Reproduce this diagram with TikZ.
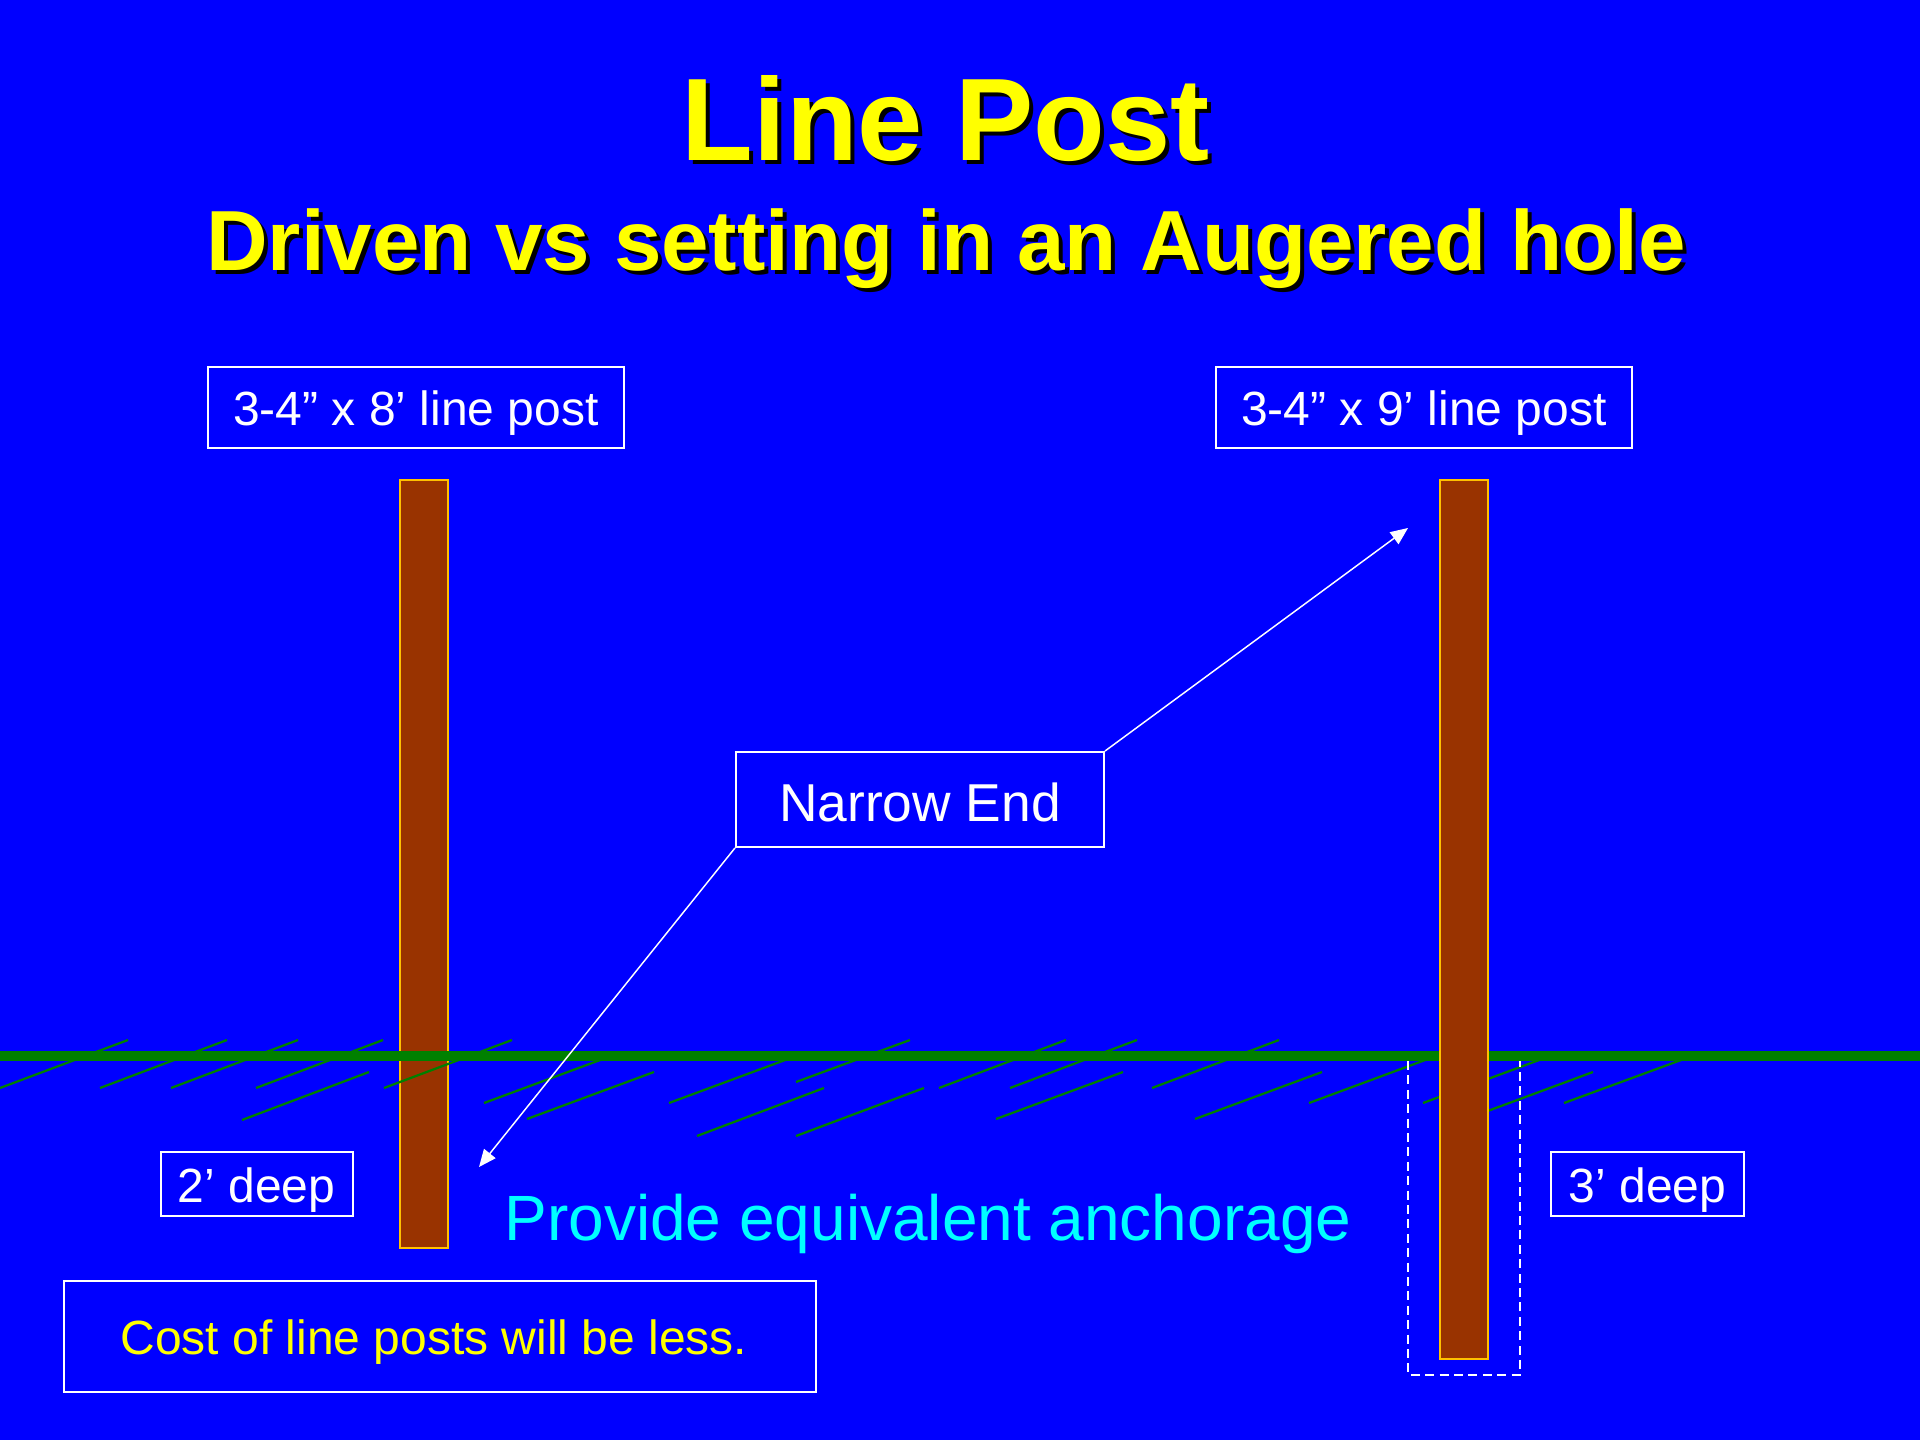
\documentclass[tikz,border=0pt]{standalone}
\usepackage{fontspec}
\setmainfont{Liberation Sans}
\usetikzlibrary{arrows.meta}
\definecolor{bg}{HTML}{0000FF}
\definecolor{postfill}{HTML}{993300}
\definecolor{postedge}{HTML}{FFC000}
\definecolor{grass}{HTML}{008000}
\definecolor{ttl}{HTML}{FFFF00}
\definecolor{aqua}{HTML}{00FFFF}
\tikzset{
  labelbox/.style={draw=white, line width=0.75pt, text=white, inner sep=0pt, align=center,
    font=\fontsize{18}{21}\selectfont, text height=17.5pt, text depth=3.8pt},
  postbar/.style={fill=postfill, draw=postedge, line width=1pt},
  ground/.style={draw=grass, line width=3.8pt},
  hatch/.style={draw=grass, line width=0.85pt},
  hole/.style={draw=white, line width=0.75pt, dash pattern=on 3.4pt off 2pt},
  arr/.style={draw=white, line width=0.55pt, -{Triangle[length=6.5pt,width=5.5pt]}},
  bigtitle/.style={inner sep=0pt, font=\fontsize{44}{53}\selectfont\bfseries},
  subtitle/.style={inner sep=0pt, font=\fontsize{32}{38}\selectfont\bfseries},
}
\begin{document}
\begin{tikzpicture}[x=0.375pt,y=-0.375pt]
\fill[bg] (0,0) rectangle (1920,1440);
\useasboundingbox (0,0) rectangle (1920,1440);

% titles with shadow
\node[bigtitle, text=black, anchor=base] (t1s) at (950,165) {Line Post};
\node[bigtitle, text=ttl, anchor=base] (t1) at (946,161) {Line Post};
\node[subtitle, text=black, anchor=base] (t2s) at (950,275) {Driven vs setting in an Augered hole};
\node[subtitle, text=ttl, anchor=base] (t2) at (946,271) {Driven vs setting in an Augered hole};

% left post (under the ground)
\draw[postbar] (400,480) rectangle (448,1248);

% ground line and hatching
\draw[ground] (0,1056) -- (1920,1056);
\foreach \a/\b/\c/\d in {
  0/1088/128/1040, 100/1088/227/1040, 171/1088/298/1040, 256/1088/383/1040,
  242/1120/369/1072, 384/1088/512/1040, 484/1103/611/1056, 527/1119/654/1072,
  669/1103/796/1056, 796/1082/910/1040, 697/1136/824/1088, 796/1136/924/1088,
  939/1088/1066/1040, 1010/1088/1137/1040, 996/1119/1123/1072, 1152/1088/1279/1040,
  1195/1119/1322/1072, 1309/1103/1436/1056, 1423/1103/1550/1056, 1466/1119/1593/1072,
  1564/1103/1692/1056}
  \draw[hatch] (\a,\b) -- (\c,\d);

% right post (over the ground)
\draw[postbar] (1440,480) rectangle (1488,1359);
% augered hole
\draw[hole] (1408,1061) -- (1408,1375) -- (1520,1375) -- (1520,1061);

% labels
\node[labelbox, minimum width=156pt, minimum height=30.4pt] (lbl8) at (416,407.5) {3-4” x 8’ line post};
\node[labelbox, minimum width=156pt, minimum height=30.4pt] (lbl9) at (1424,407.5) {3-4” x 9’ line post};
\node[labelbox, minimum width=138pt, minimum height=35.6pt, font=\fontsize{20}{24}\selectfont, text height=16.2pt, text depth=0pt] (narrow) at (920,799.5) {Narrow End};
\node[labelbox, minimum width=72pt, minimum height=24pt] (d2) at (256.5,1184) {2’ deep};
\node[labelbox, minimum width=72.4pt, minimum height=24pt] (d3) at (1647.5,1184) {3’ deep};
\node[labelbox, text=ttl, minimum width=282pt, minimum height=41.6pt] (cost) at (440,1336.5) {Cost of line posts will be less.\kern4.5pt};
\node[inner sep=0pt, text=aqua, anchor=base, font=\fontsize{24}{29}\selectfont] (provide) at (928,1240) {Provide equivalent anchorage};

% arrows
\coordinate (tip9) at (1408,528);
\coordinate (tip8) at (479,1167);
\draw[arr] (narrow.north east) -- (tip9);
\draw[arr] (narrow.south west) -- (tip8);
\end{tikzpicture}
\end{document}
